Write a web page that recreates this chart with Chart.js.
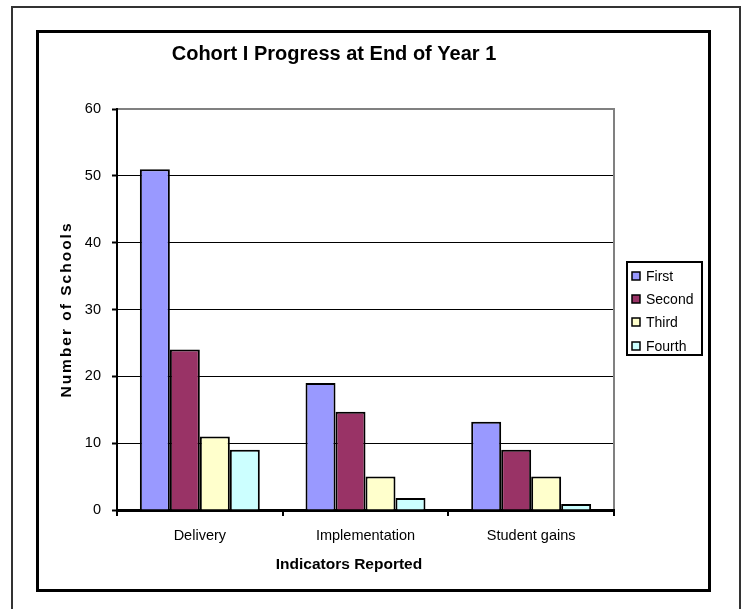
<!DOCTYPE html>
<html>
<head>
<meta charset="utf-8">
<title>Cohort I Progress at End of Year 1</title>
<script src="https://cdn.jsdelivr.net/npm/chart.js@4/dist/chart.umd.min.js"></script>
<style>
  html, body { margin: 0; padding: 0; background: #ffffff; }
  #wrap { width: 742px; height: 609px; }
</style>
</head>
<body>
<div id="wrap"><canvas id="chart" width="742" height="609"></canvas></div>
<script>
// Indicators reported by schools in Cohort I after the first year
const categories = ['Delivery', 'Implementation', 'Student gains'];
const seriesNames = ['First', 'Second', 'Third', 'Fourth'];
const firstValues = [51, 19, 13.2];
const secondValues = [24, 14.7, 9];
const thirdValues = [11, 5, 5];
const fourthValues = [9, 1.8, 0.9];
const yMax = 60;
const yStep = 10;

const chartTitle = 'Cohort I Progress at End of Year 1';
const xTitle = 'Indicators Reported';
const yTitle = 'Number of Schools';

const seriesColors = ['#9999FF', '#993366', '#FFFFCC', '#CCFFFF'];
const FONT = 'Arial, "Liberation Sans", sans-serif';

// Frames, titles, plot border and boxed legend drawn around the chart area
const decorations = {
  id: 'decorations',
  beforeDraw(chart) {
    const c = chart.ctx;
    c.save();
    c.fillStyle = '#ffffff';
    c.fillRect(0, 0, chart.width, chart.height);
    // outer page frame (open at the bottom)
    c.strokeStyle = '#333333';
    c.lineWidth = 2;
    c.beginPath();
    c.moveTo(12, chart.height);
    c.lineTo(12, 7);
    c.lineTo(740, 7);
    c.lineTo(740, chart.height);
    c.stroke();
    // chart frame
    c.strokeStyle = '#000000';
    c.lineWidth = 3;
    c.strokeRect(37.5, 31.5, 672, 559);
    c.restore();
  },
  afterDraw(chart) {
    const c = chart.ctx;
    const a = chart.chartArea;
    c.save();
    // grey plot-area border on top and right
    c.strokeStyle = '#808080';
    c.lineWidth = 2;
    c.beginPath();
    c.moveTo(a.left + 1, a.top);
    c.lineTo(a.right, a.top);
    c.lineTo(a.right, a.bottom - 1);
    c.stroke();

    c.fillStyle = '#000000';
    c.textAlign = 'center';
    c.textBaseline = 'middle';
    c.font = 'bold 20px ' + FONT;
    c.fillText(chartTitle, 334, 54);

    c.font = 'bold 15.5px ' + FONT;
    c.fillText(xTitle, 349, 565);

    c.save();
    c.translate(67, (a.top + a.bottom) / 2);
    c.rotate(-Math.PI / 2);
    c.letterSpacing = '2px';
    c.fillText(yTitle, 0, 0);
    c.restore();

    // legend box
    c.strokeStyle = '#000000';
    c.lineWidth = 2;
    c.strokeRect(627, 262, 75, 93);
    const rows = [276, 299, 322, 346];
    c.textAlign = 'left';
    c.font = '14px ' + FONT;
    chart.data.datasets.forEach((ds, i) => {
      const y = rows[i];
      c.fillStyle = ds.backgroundColor;
      c.fillRect(632, y - 4, 8, 8);
      c.lineWidth = 1.5;
      c.strokeStyle = '#000000';
      c.strokeRect(632, y - 4, 8, 8);
      c.fillStyle = '#000000';
      c.fillText(ds.label, 646, y + 1);
    });
    c.restore();
  }
};

const valueSets = [firstValues, secondValues, thirdValues, fourthValues];

new Chart(document.getElementById('chart'), {
  type: 'bar',
  data: {
    labels: categories,
    datasets: seriesNames.map((name, i) => ({
      label: name,
      data: valueSets[i],
      backgroundColor: seriesColors[i],
      borderColor: '#000000',
      borderWidth: 2,
      barPercentage: 1,
      categoryPercentage: 0.724
    }))
  },
  options: {
    responsive: false,
    animation: false,
    devicePixelRatio: 1,
    layout: { padding: { left: 0, right: 128, top: 109, bottom: 0 } },
    plugins: {
      legend: { display: false },
      title: { display: false },
      tooltip: { enabled: false }
    },
    scales: {
      x: {
        afterFit(scale) { scale.height = 99; },
        offset: true,
        border: { display: true, color: '#000000', width: 3 },
        grid: {
          display: true,
          offset: true,
          drawOnChartArea: false,
          drawTicks: true,
          tickLength: 6,
          color: '#000000',
          lineWidth: 2
        },
        ticks: {
          color: '#000000',
          padding: 11,
          font: { family: FONT, size: 14.5 }
        }
      },
      y: {
        afterFit(scale) { scale.width = 117; },
        min: 0,
        max: yMax,
        border: { display: true, color: '#000000', width: 2 },
        grid: {
          color: '#000000',
          lineWidth: 1,
          tickLength: 5,
          tickColor: '#000000',
          tickWidth: 2
        },
        ticks: {
          stepSize: yStep,
          color: '#000000',
          padding: 11,
          font: { family: FONT, size: 14.5 }
        }
      }
    }
  },
  plugins: [decorations]
});
</script>
</body>
</html>
